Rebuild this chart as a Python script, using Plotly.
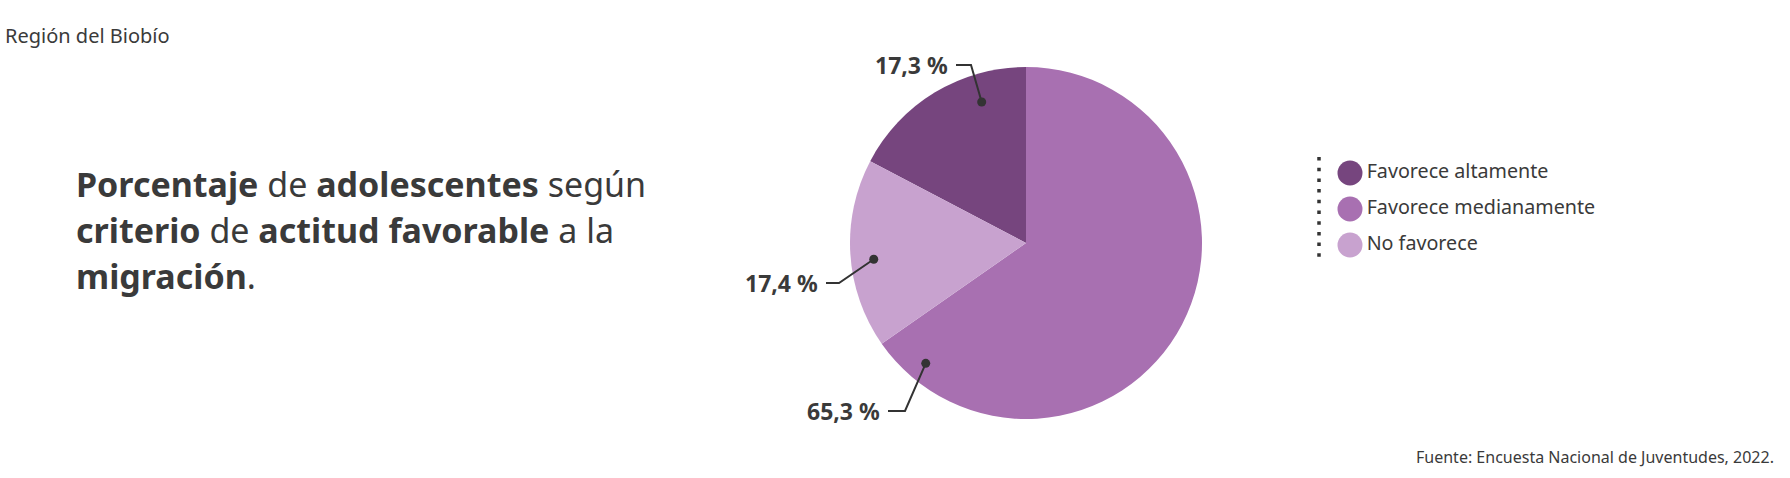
"""
Porcentaje de adolescentes según criterio de actitud favorable a la migración.
Región del Biobío, ENJ 2022.
"""

import math

import plotly.graph_objects as go

W, H = 1790, 478

# data
labels = ["Favorece altamente", "Favorece medianamente", "No favorece"]
values = [17.3, 65.3, 17.4]
value_text = ["17,3 %", "65,3 %", "17,4 %"]
colors = ["#76457e", "#a870b1", "#c8a2cf"]

region = "Región del Biobío"
title_lines = [
    "<b>Porcentaje</b> de <b>adolescentes</b> según",
    "<b>criterio</b> de <b>actitud favorable</b> a la",
    "<b>migración</b>.",
]
source = "Fuente: Encuesta Nacional de Juventudes, 2022."

FONT = "Noto Sans"
TEXT = "#3a3a3a"

# pie geometry (pixels)
cx, cy, r = 1026, 243, 176
rotation = -values[0] / sum(values) * 360  # first slice ends at 12 o'clock

# where each leader touches its slice: fraction of slice span, fraction of radius
leader_at = [(0.72, 0.84), (0.935, 0.89), (0.46, 0.87)]
# label end point (right edge of text, pixels) and horizontal tick length
label_at = [(950, 65, 15), (882, 411, 17), (820, 283, 13)]


def px(x):
    return x / W


def py(y):
    return 1 - y / H


fig = go.Figure()

fig.add_trace(go.Pie(
    labels=labels,
    values=values,
    sort=False,
    direction="clockwise",
    rotation=rotation,
    marker=dict(colors=colors, line=dict(width=0)),
    textinfo="none",
    hoverinfo="label+percent",
    showlegend=False,
    domain=dict(x=[px(cx - r), px(cx + r)], y=[py(cy + r), py(cy - r)]),
))

# legend drawn as a small categorical panel with round markers
fig.add_trace(go.Scatter(
    x=[0] * len(labels),
    y=labels,
    mode="markers+text",
    text=labels,
    textposition="middle right",
    textfont=dict(family=FONT, size=19.7, color=TEXT),
    marker=dict(size=25, color=colors),
    cliponaxis=False,
    hoverinfo="skip",
    showlegend=False,
    xaxis="x", yaxis="y",
))

# leader lines
shapes = []
annotations = []
start = 0.0
total = sum(values)
for i, v in enumerate(values):
    span = v / total * 360
    frac, rf = leader_at[i]
    ang = math.radians(rotation + start + frac * span)
    dx = cx + rf * r * math.sin(ang)
    dy = cy - rf * r * math.cos(ang)
    start += span

    lx, ly, tick = label_at[i]
    x0 = lx + 6
    x1 = x0 + tick
    path = f"M {px(x0)} {py(ly)} L {px(x1)} {py(ly)} L {px(dx)} {py(dy)}"
    shapes.append(dict(type="path", path=path, xref="paper", yref="paper",
                       line=dict(color="#333333", width=2)))
    shapes.append(dict(type="circle", xref="paper", yref="paper",
                       x0=px(dx - 4.5), x1=px(dx + 4.5),
                       y0=py(dy + 4.5), y1=py(dy - 4.5),
                       fillcolor="#333333", line=dict(width=0)))
    annotations.append(dict(
        text=f"<b>{value_text[i]}</b>", x=px(lx), y=py(ly),
        xref="paper", yref="paper", xanchor="right", yanchor="middle",
        showarrow=False, font=dict(family=FONT, size=23, color=TEXT)))

# dotted rule left of the legend
shapes.append(dict(type="line", xref="paper", yref="paper",
                   x0=px(1319), x1=px(1319), y0=py(157), y1=py(259),
                   line=dict(color="#333333", width=3.5, dash="3.5px,7.2px")))

# title, one annotation per line to control the leading
for k, line in enumerate(title_lines):
    annotations.append(dict(
        text=line, x=px(74), y=py(184 + 46 * k), xref="paper", yref="paper",
        xanchor="left", yanchor="middle", align="left", showarrow=False,
        font=dict(family=FONT, size=34, color=TEXT)))

annotations += [
    dict(text=region, x=px(3), y=py(36), xref="paper", yref="paper",
         xanchor="left", yanchor="middle", showarrow=False,
         font=dict(family=FONT, size=20, color=TEXT)),
    dict(text=source, x=px(1776), y=py(457), xref="paper", yref="paper",
         xanchor="right", yanchor="middle", showarrow=False,
         font=dict(family=FONT, size=16, color=TEXT)),
]

fig.update_layout(
    width=W, height=H,
    margin=dict(l=0, r=0, t=0, b=0),
    paper_bgcolor="white",
    plot_bgcolor="rgba(0,0,0,0)",
    xaxis=dict(domain=[px(1330), px(1550)], range=[-1, 10], visible=False,
               fixedrange=True),
    yaxis=dict(domain=[py(263), py(155)], range=[2.5, -0.5], visible=False,
               fixedrange=True, type="category"),
    shapes=shapes,
    annotations=annotations,
    showlegend=False,
)

# drop the default 8px body margin so the figure sits at the window origin
fig.write_html("out.html", config={"displayModeBar": False},
               post_script="document.body.style.margin='0';")
